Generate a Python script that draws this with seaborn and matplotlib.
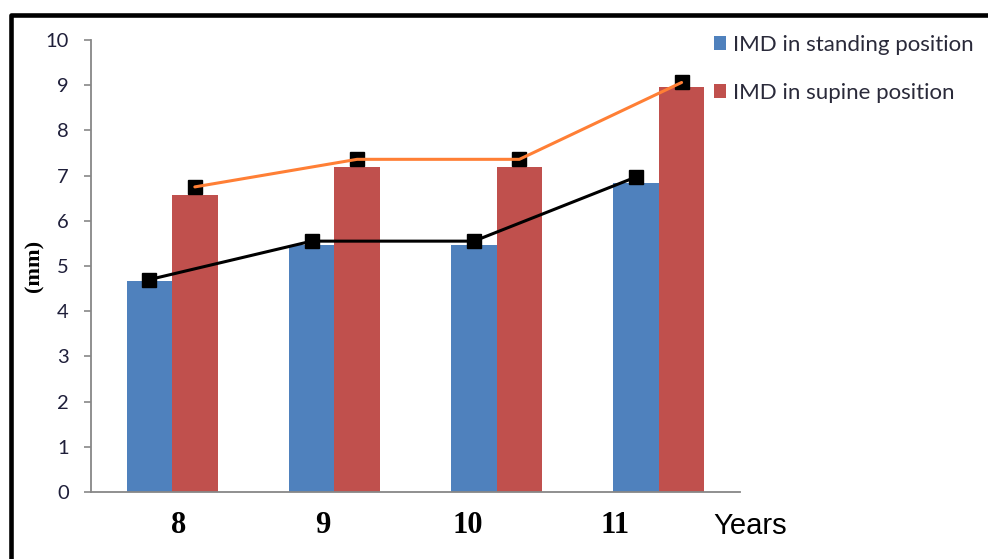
import numpy as np
import pandas as pd
import matplotlib
matplotlib.use("Agg")
import matplotlib.pyplot as plt
import seaborn as sns

years = ["8", "9", "10", "11"]
standing = [4.67, 5.46, 5.46, 6.84]
supine = [6.57, 7.18, 7.19, 8.95]
standing_line = [4.70, 5.55, 5.55, 6.97]
supine_line = [6.75, 7.36, 7.36, 9.06]
series_names = ["IMD in standing position", "IMD in supine position"]

df = pd.DataFrame({
    "year": years * 2,
    "value": standing + supine,
    "series": [series_names[0]] * 4 + [series_names[1]] * 4,
})

sns.set_style("white")
plt.rcParams["font.family"] = ["Lato", "DejaVu Sans"]

fig = plt.figure(figsize=(9.88, 5.59), dpi=100)
ax = fig.add_axes([91 / 988, 1 - 492 / 559, 649 / 988, 452 / 559])

width = 0.56
sns.barplot(data=df, x="year", y="value", hue="series", order=years,
            hue_order=series_names, palette=["#4F81BD", "#C0504D"],
            saturation=1, width=width, gap=0, errorbar=None, linewidth=0,
            ax=ax)

# trend lines sit on the bar centres
pos = np.arange(len(years))
off = width / 4
ax.plot(pos - off, standing_line, color="black", lw=2.2, marker="s",
        markersize=10, markerfacecolor="black", markeredgecolor="black", zorder=4)
ax.plot(pos + off, supine_line, color="none", marker="s", markersize=10,
        markerfacecolor="black", markeredgecolor="black", zorder=4)
ax.plot(pos + off, supine_line, color="#FF7F35", lw=2.2, zorder=5)

ax.set_xlim(-0.5, 3.5)
ax.set_ylim(0, 10)
ax.set_yticks(range(0, 11))
sns.despine(ax=ax)
for s in ["left", "bottom"]:
    ax.spines[s].set_color("#878787")
    ax.spines[s].set_linewidth(1.3)
ax.tick_params(axis="y", length=5, width=1.2, color="#878787", pad=11,
               labelsize=14.5, labelcolor="#1f1f3a", left=True)
ax.tick_params(axis="x", length=0, pad=14)

# x labels are drawn a bit left of the bar groups in the original
label_shift = [0.04, -0.07, -0.18, -0.27]
ax.set_xticks(pos + np.array(label_shift))
ax.set_xticklabels(years, fontfamily="Liberation Serif", fontweight="bold",
                   fontsize=22, color="black")

ax.set_xlabel("Years", fontfamily="Liberation Sans", fontsize=21, color="black")
ax.xaxis.set_label_coords(1.015, -0.045)
ax.set_ylabel("(mm)", fontfamily="Liberation Serif", fontweight="bold",
              fontsize=16, color="black")
ax.yaxis.set_label_coords(-0.071, 0.50)

handles, labels = ax.get_legend_handles_labels()
ax.get_legend().remove()
ax.legend(handles[:2], labels[:2], loc="upper left",
          bbox_to_anchor=(714 / 988, 1 - 35 / 559), bbox_transform=fig.transFigure,
          frameon=False, fontsize=16, handlelength=0.55, handleheight=0.55,
          handletextpad=0.3, labelspacing=1.25, borderpad=0, borderaxespad=0,
          labelcolor="#2a2a3a")

# black frame on top and left of the image
fig.add_artist(plt.Line2D([10.5 / 988, 10.5 / 988, 1.0], [0, 1 - 15 / 559, 1 - 15 / 559],
                          color="black", lw=3.3, transform=fig.transFigure))

fig.savefig("out.png", dpi=100)
